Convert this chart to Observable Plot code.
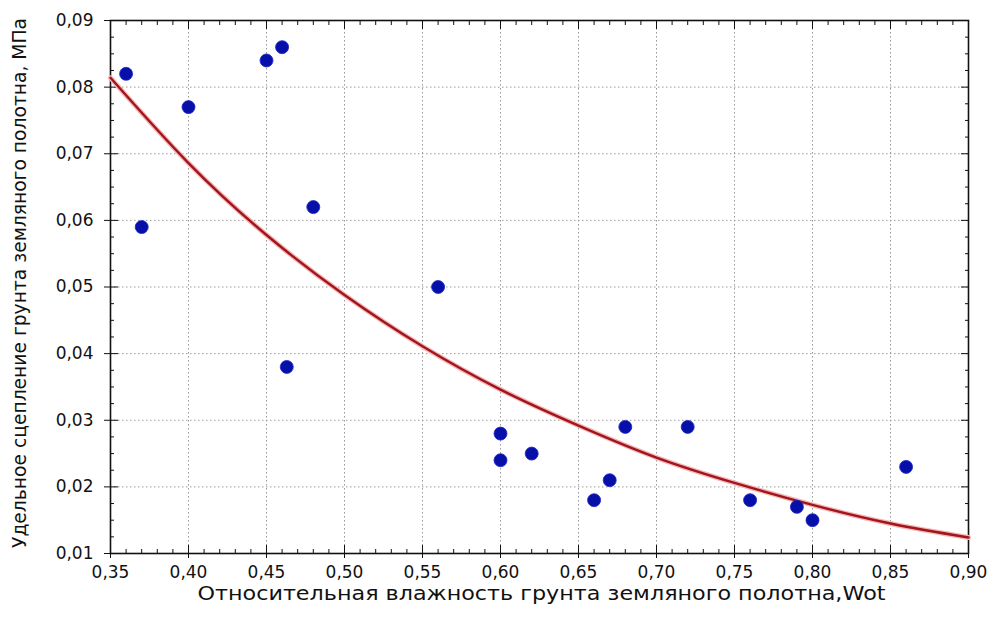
<!DOCTYPE html>
<html>
<head>
<meta charset="utf-8">
<script src="https://cdn.jsdelivr.net/npm/d3@7"></script>
<script src="https://cdn.jsdelivr.net/npm/@observablehq/plot@0.6"></script>
<style>
  html, body { margin: 0; padding: 0; background: #fff; }
  #chart svg { display: block; }
</style>
</head>
<body>
<div id="chart"></div>
<script>
// Observed points: relative moisture (Wot) vs specific cohesion (MPa)
const moisture = [0.36, 0.37, 0.40, 0.45, 0.46, 0.48, 0.463, 0.56, 0.60, 0.60, 0.62, 0.66, 0.67, 0.68, 0.72, 0.76, 0.79, 0.80, 0.86];
const cohesion = [0.082, 0.059, 0.077, 0.084, 0.086, 0.062, 0.038, 0.050, 0.028, 0.024, 0.025, 0.018, 0.021, 0.029, 0.029, 0.018, 0.017, 0.015, 0.023];

// Fitted curve
const curveX = [0.35, 0.40, 0.45, 0.50, 0.55, 0.60, 0.65, 0.70, 0.75, 0.80, 0.85, 0.90];
const curveY = [0.0814, 0.0686, 0.0578, 0.0488, 0.0411, 0.0346, 0.0292, 0.0244, 0.0206, 0.0173, 0.0145, 0.0124];

// Tick labels
const xTicks = [0.35, 0.40, 0.45, 0.50, 0.55, 0.60, 0.65, 0.70, 0.75, 0.80, 0.85, 0.90];
const yTicks = [0.01, 0.02, 0.03, 0.04, 0.05, 0.06, 0.07, 0.08, 0.09];

const xLabel = "Относительная влажность грунта земляного полотна,Wot";
const yLabel = "Удельное сцепление грунта земляного полотна, МПа";

const points = moisture.map((m, i) => ({x: m, y: cohesion[i]}));
const fit = curveX.map((x, i) => ({x, y: curveY[i]}));

const xMinor = d3.range(35, 91, 1).map(v => v / 100).filter(v => !xTicks.some(t => Math.abs(t - v) < 1e-9));
const yMinor = d3.range(4, 37, 1).map(v => v / 400).filter(v => !yTicks.some(t => Math.abs(t - v) < 1e-9));
const fmt = d => d.toFixed(2).replace(".", ",");
const innerX = xTicks.slice(1, -1);
const innerY = yTicks.slice(1, -1);

const chart = Plot.plot({
  width: 990,
  height: 617,
  marginLeft: 110,
  marginRight: 22,
  marginTop: 20,
  marginBottom: 64,
  style: {fontFamily: "'DejaVu Sans', sans-serif", fontSize: "17px", color: "#111", background: "#fff"},
  x: {domain: [0.35, 0.90]},
  y: {domain: [0.01, 0.09]},
  marks: [
    Plot.gridX(innerX, {stroke: "#999", strokeOpacity: 1, strokeWidth: 1, strokeDasharray: "1.5,2.5"}),
    Plot.gridY(innerY, {stroke: "#999", strokeOpacity: 1, strokeWidth: 1, strokeDasharray: "1.5,2.5"}),
    // bottom axis: labels + outward major ticks
    Plot.axisX(xTicks, {anchor: "bottom", tickSize: 5, tickPadding: 7, tickFormat: fmt, label: null, fontSize: 17, letterSpacing: "0.6px"}),
    Plot.axisX(xTicks, {anchor: "bottom", tickSize: -8, text: null, label: null}),
    Plot.axisX(xMinor, {anchor: "bottom", tickSize: -4, text: null, label: null}),
    Plot.axisX(xTicks, {anchor: "top", tickSize: -8, text: null, label: null}),
    Plot.axisX(xMinor, {anchor: "top", tickSize: -4, text: null, label: null}),
    // left axis
    Plot.axisY(yTicks, {anchor: "left", tickSize: 6, tickPadding: 11, tickFormat: fmt, label: null, fontSize: 17, letterSpacing: "0.6px"}),
    Plot.axisY(yTicks, {anchor: "left", tickSize: -8, text: null, label: null}),
    Plot.axisY(yMinor, {anchor: "left", tickSize: -4, text: null, label: null}),
    Plot.axisY(yTicks, {anchor: "right", tickSize: -8, text: null, label: null}),
    Plot.axisY(yMinor, {anchor: "right", tickSize: -4, text: null, label: null}),
    Plot.frame({stroke: "#111", strokeWidth: 1.6}),
    Plot.line(fit, {x: "x", y: "y", curve: "natural", stroke: "#f2b8b8", strokeWidth: 5}),
    Plot.line(fit, {x: "x", y: "y", curve: "natural", stroke: "#a3141c", strokeWidth: 2.4}),
    Plot.dot(points, {x: "x", y: "y", r: 6.5, fill: "#0610a8", stroke: "#2026c8", strokeWidth: 0.8}),
    Plot.text([xLabel], {frameAnchor: "bottom", dy: 46, dx: 2, fontSize: 20, fill: "#111", textAnchor: "middle", className: "xlab"}),
    Plot.text([yLabel], {frameAnchor: "left", rotate: -90, dx: -91, dy: -4, fontSize: 19, fill: "#111", textAnchor: "middle", className: "ylab"})
  ]
});

d3.select(chart).selectAll(".xlab text").attr("textLength", 688).attr("lengthAdjust", "spacingAndGlyphs");
d3.select(chart).selectAll(".ylab text").attr("textLength", 530).attr("lengthAdjust", "spacingAndGlyphs");

document.getElementById("chart").appendChild(chart);
</script>
</body>
</html>
